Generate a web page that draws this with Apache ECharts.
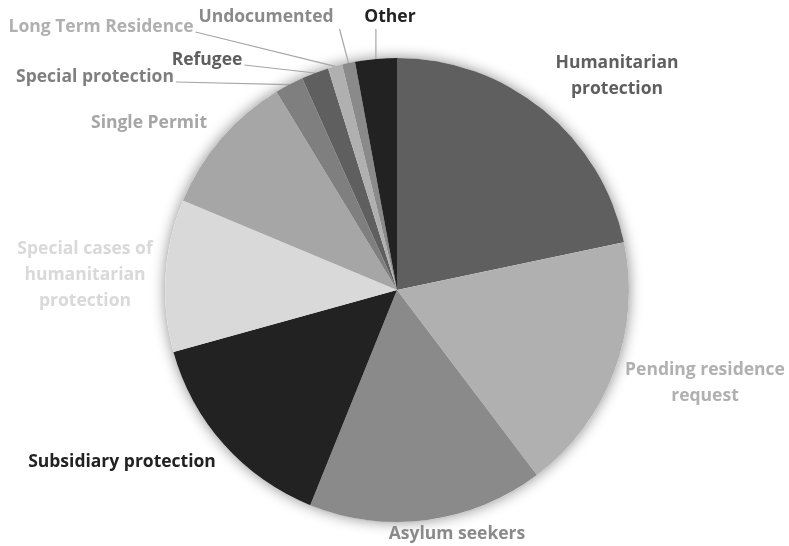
<!DOCTYPE html>
<html>
<head>
<meta charset="utf-8">
<script src="https://cdn.jsdelivr.net/npm/echarts@6/dist/echarts.min.js"></script>
<style>
  html, body { margin: 0; padding: 0; background: #fff; }
  #chart { width: 789px; height: 546px; }
</style>
</head>
<body>
<div id="chart"></div>
<script>
// categories clockwise from 12 o'clock
const categories = [
    'Humanitarian\nprotection', 'Pending residence\nrequest', 'Asylum seekers',
    'Subsidiary protection', 'Special cases of\nhumanitarian\nprotection', 'Single Permit',
    'Special protection', 'Refugee', 'Long Term Residence', 'Undocumented', 'Other'
];
const shares = [21.7, 18.0, 16.4, 14.6, 10.6, 10.0, 2.0, 1.9, 1.0, 0.9, 2.9];

const sliceColors = ['#5f5f5f', '#b0b0b0', '#8a8a8a', '#222222', '#d9d9d9', '#a6a6a6',
    '#7f7f7f', '#5f5f5f', '#b0b0b0', '#8a8a8a', '#222222'];
// label centres (px) and whether a leader line is drawn
const labelPos = [[617, 76], [705, 383], [457, 534], [122, 462], [85, 275], [149, 123],
    [95, 77], [207, 60], [101, 27], [266, 17], [390, 17]];
const withLine = [false, false, false, false, false, false, true, true, true, true, true];

const chart = echarts.init(document.getElementById('chart'));

const pieData = categories.map((c, i) => ({
    name: c,
    value: shares[i],
    itemStyle: { color: sliceColors[i] },
    label: { color: sliceColors[i] },
    labelLine: { show: withLine[i] }
}));

chart.setOption({
    backgroundColor: '#fff',
    animation: false,
    series: [
        {
            // soft shadow under the pie
            type: 'pie',
            silent: true,
            z: 1,
            center: [397, 290],
            radius: 232,
            label: { show: false },
            labelLine: { show: false },
            itemStyle: { color: '#fff', shadowBlur: 14, shadowColor: 'rgba(0,0,0,0.45)' },
            data: [{ value: shares.reduce((a, b) => a + b, 0), name: '' }]
        },
        {
            type: 'pie',
            z: 2,
            center: [397, 290],
            radius: 232,
            startAngle: 90,
            clockwise: true,
            avoidLabelOverlap: false,
            itemStyle: { borderWidth: 0 },
            label: {
                show: true,
                position: 'outside',
                fontFamily: 'Open Sans',
                fontWeight: 'bold',
                fontSize: 17.5,
                lineHeight: 26,
                align: 'center'
            },
            labelLine: { show: true, lineStyle: { color: '#a6a6a6', width: 1.2 } },
            labelLayout: function (p) {
                const i = p.dataIndex;
                const pos = labelPos[i];
                const out = { x: pos[0], y: pos[1], align: 'center', verticalAlign: 'middle' };
                if (withLine[i] && p.labelLinePoints) {
                    const start = p.labelLinePoints[0];
                    const r = p.labelRect;
                    let end;
                    if (i <= 8) {
                        end = [pos[0] + r.width / 2 + 2, pos[1] + 5];
                    } else {
                        end = [start[0] - (i === 9 ? 9 : 0), pos[1] + 12];
                    }
                    out.labelLinePoints = [start, end, end];
                }
                return out;
            },
            data: pieData
        }
    ]
});
</script>
</body>
</html>
